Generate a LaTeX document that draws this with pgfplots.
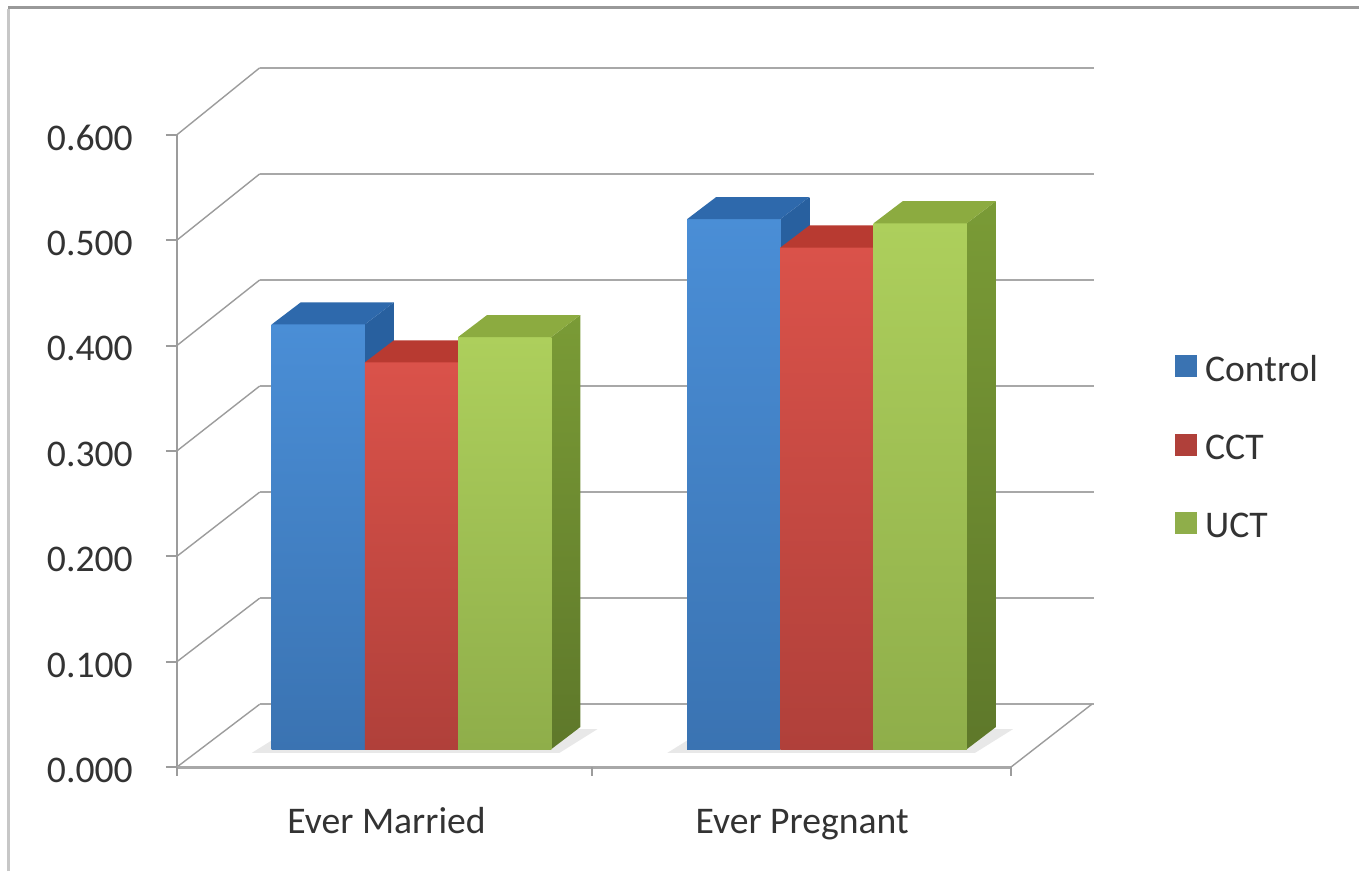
\documentclass[border=0pt]{standalone}
\usepackage{pgfplots}
\pgfplotsset{compat=1.18}
\usepackage{fontspec}
\setmainfont{Carlito}
\definecolor{ctrlT}{HTML}{4A8ED6}
\definecolor{ctrlB}{HTML}{3A73B2}
\definecolor{ctrlTop}{HTML}{2E69AC}
\definecolor{ctrlSide}{HTML}{28609F}
\definecolor{cctT}{HTML}{DA524A}
\definecolor{cctB}{HTML}{B0403A}
\definecolor{cctTop}{HTML}{B83A31}
\definecolor{cctSide}{HTML}{A3352E}
\definecolor{uctT}{HTML}{ADCF5C}
\definecolor{uctB}{HTML}{8FAE4A}
\definecolor{uctTop}{HTML}{8CAB40}
\definecolor{uctSideT}{HTML}{7A9B36}
\definecolor{uctSideB}{HTML}{5E782A}
\definecolor{gridc}{HTML}{A8A8A8}
\definecolor{diagc}{HTML}{9C9C9C}
\definecolor{txt}{HTML}{333333}

% one 3-D bar: #1 left x (px), #2 value, #3/#4 front top/bottom colour, #5 top face, #6/#7 side top/bottom
\newcommand{\bartd}[7]{%
  \pgfmathsetmacro\xa{#1}%
  \pgfmathsetmacro\xb{#1+93.3}%
  \pgfmathsetmacro\xc{#1+93.3+29}%
  \pgfmathsetmacro\xd{#1+29}%
  \pgfmathsetmacro\ya{0.0171}%
  \pgfmathsetmacro\yt{0.0171+#2}%
  \pgfmathsetmacro\ytt{0.0171+#2+0.0209}%
  \pgfmathsetmacro\yat{0.0171+0.0209}%
  \addplot[forget plot, draw=none, top color=#6, bottom color=#7] coordinates {(\xb,\ya) (\xb,\yt) (\xc,\ytt) (\xc,\yat)};
  \addplot[forget plot, draw=none, top color=#3, bottom color=#4] coordinates {(\xa,\ya) (\xb,\ya) (\xb,\yt) (\xa,\yt)};
  \addplot[forget plot, draw=none, fill=#5] coordinates {(\xa,\yt) (\xb,\yt) (\xc,\ytt) (\xd,\ytt)};
}

\begin{document}
\begin{tikzpicture}[font=\fontsize{18.85}{22}\selectfont, text=txt]
\begin{axis}[
  width=680pt, height=436pt, scale only axis,
  xmin=0, xmax=1360, ymin=-0.098578, ymax=0.727962,
  hide axis, clip=false,
  legend style={at={(axis cs:1176,0.3934)}, anchor=north west, draw=none, fill=none,
    font=\fontsize{18.85}{22}\selectfont, text=txt, row sep=23.5pt, column sep=3pt, inner sep=0pt,
    nodes={inner sep=1pt}},
  legend cell align=left,
  legend image code/.code={\fill[#1] (0pt,-3.5pt) rectangle (11pt,7.5pt);},
]
% background / page box
\fill[white] (axis cs:0,-0.098578) rectangle (axis cs:1360,0.727962);
% outer frame
\draw[line width=1.5pt, color=black!40] (axis cs:8.5,0.7209) -- (axis cs:1360,0.7209);
\draw[line width=1.5pt, color=black!22] (axis cs:8.5,-0.098578) -- (axis cs:8.5,0.719);

% back wall gridlines and left wall diagonals
\pgfplotsinvokeforeach{0,0.1,0.2,0.3,0.4,0.5,0.6}{
  \draw[color=diagc, line width=0.7pt] (axis cs:177,#1) -- (axis cs:260,{0.0597+1.0065*#1});
  \draw[color=gridc, line width=1.25pt] (axis cs:260,{0.0597+1.0065*#1}) -- (axis cs:1095,{0.0597+1.0065*#1});
  \draw[color=diagc, line width=1pt] (axis cs:166,#1) -- (axis cs:177,#1);
}
% front vertical axis
\draw[color=diagc, line width=1.1pt] (axis cs:177,0) -- (axis cs:177,0.6);
% floor
\draw[color=gridc, line width=1.4pt] (axis cs:177,0) -- (axis cs:1012,0);
\draw[color=diagc, line width=0.7pt] (axis cs:1012,0) -- (axis cs:1093,0.0597);
\pgfplotsinvokeforeach{177,593,1012}{
  \draw[color=diagc, line width=1pt] (axis cs:#1,0) -- (axis cs:#1,-0.008);
}

% soft shadows on the floor
\addplot[forget plot, draw=none, fill=black!9] coordinates {(252,0.0135) (560,0.0135) (598,0.036) (290,0.036)};
\addplot[forget plot, draw=none, fill=black!9] coordinates {(668,0.0135) (976,0.0135) (1014,0.036) (706,0.036)};

% Ever Married
\bartd{272}{0.403}{ctrlT}{ctrlB}{ctrlTop}{ctrlSide}{ctrlSide}
\bartd{365.3}{0.367}{cctT}{cctB}{cctTop}{cctSide}{cctSide}
\bartd{458.6}{0.391}{uctT}{uctB}{uctTop}{uctSideT}{uctSideB}
% Ever Pregnant
\bartd{688}{0.503}{ctrlT}{ctrlB}{ctrlTop}{ctrlSide}{ctrlSide}
\bartd{781.3}{0.476}{cctT}{cctB}{cctTop}{cctSide}{cctSide}
\bartd{874.6}{0.499}{uctT}{uctB}{uctTop}{uctSideT}{uctSideB}

% tick labels
\node[anchor=east] at (axis cs:140,-0.003) {0.000};
\node[anchor=east] at (axis cs:140,0.097) {0.100};
\node[anchor=east] at (axis cs:140,0.197) {0.200};
\node[anchor=east] at (axis cs:140,0.297) {0.300};
\node[anchor=east] at (axis cs:140,0.397) {0.400};
\node[anchor=east] at (axis cs:140,0.497) {0.500};
\node[anchor=east] at (axis cs:140,0.597) {0.600};
% category labels
\node[anchor=base] at (axis cs:387,-0.0626) {Ever Married};
\node[anchor=base] at (axis cs:803,-0.0626) {Ever Pregnant};

\addlegendimage{draw=none, fill=ctrlB}\addlegendentry{Control}
\addlegendimage{draw=none, fill=cctB}\addlegendentry{CCT}
\addlegendimage{draw=none, fill=uctB}\addlegendentry{UCT}
\end{axis}
\end{tikzpicture}
\end{document}
